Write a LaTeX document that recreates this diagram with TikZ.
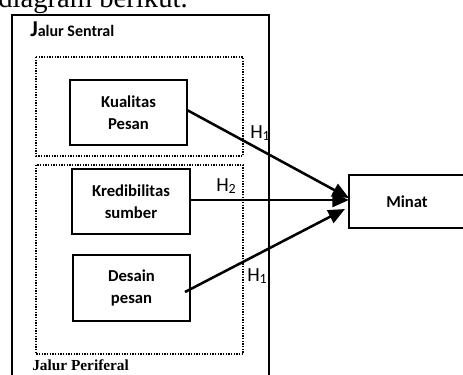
\documentclass[tikz,border=0pt]{standalone}
\usepackage{fontspec}
\setmainfont{Liberation Serif}
\newfontfamily\calibri{Carlito}
\usetikzlibrary{arrows.meta}

\tikzset{
  box/.style={draw, line width=1.2pt, inner sep=0pt, align=center,
    font=\calibri\bfseries\fontsize{12.5}{16.5}\selectfont},
  group/.style={draw, line width=0.9pt, dash pattern=on 0.9pt off 1.1pt},
  link/.style={line width=1.9pt, -{Triangle[length=12.5pt,width=10.5pt]}},
  hyp/.style={anchor=base west, inner sep=0pt, font=\calibri\fontsize{15}{15}\selectfont}
}

\begin{document}
\begin{tikzpicture}[x=0.75pt, y=-0.75pt]
\useasboundingbox (0,0) rectangle (463,374);

% cut-off line of text above
\node[anchor=base east, inner sep=0pt, font=\fontsize{21.5}{22}\selectfont] (caption) at (188,8) {diagram berikut.};

% outer frame
\draw[line width=1.2pt] (12,15) rectangle (269,380);
\node[anchor=base west, inner sep=0pt, font=\calibri\bfseries] (sentral) at (30,37)
  {{\fontsize{17}{17}\selectfont J}{\fontsize{12}{12}\selectfont alur Sentral}};

% dotted groups
\draw[group] (36,57) rectangle (243,156);
\draw[group] (36,165) rectangle (243,354);
\node[anchor=base west, inner sep=0pt, font=\bfseries\fontsize{11.5}{12}\selectfont] (periferal) at (32,370) {Jalur Periferal};

% variables
\node[box, minimum width=87.75pt, minimum height=48.75pt] (kualitas) at (128.5,112.5) {Kualitas\\Pesan};
\node[box, minimum width=88.5pt, minimum height=48.75pt] (kredibilitas) at (131,201.5) {Kredibilitas\\sumber};
\node[box, minimum width=87.75pt, minimum height=49.5pt] (desain) at (131.5,288) {Desain\\pesan};
\node[box, minimum width=87pt, minimum height=39.75pt] (minat) at (407,201.5) {Minat};

% arrow ends
\coordinate (k1) at (187,110);
\coordinate (d1) at (185,292);
\coordinate (m1) at (349,198);
\coordinate (m2) at (349,200);
\coordinate (m3) at (345,209);

\draw[link] (k1) -- (m1);
\draw[link] (kredibilitas.east |- m2) -- (m2);
\draw[link] (d1) -- (m3);

\node[hyp] (h1) at (250,138) {H\textsubscript{1}};
\node[hyp] (h2) at (216,191) {H\textsubscript{2}};
\node[hyp] (h3) at (247,281) {H\textsubscript{1}};

\end{tikzpicture}
\end{document}
